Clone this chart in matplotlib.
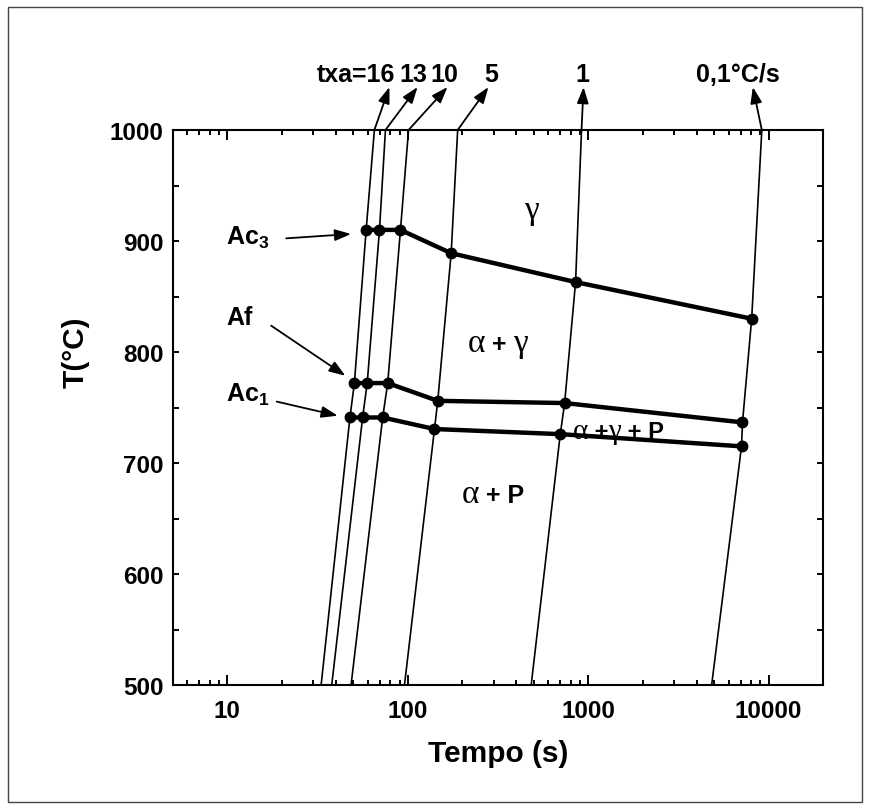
import matplotlib
matplotlib.use('Agg')
import matplotlib.pyplot as plt
from matplotlib.ticker import LogLocator, NullFormatter, MultipleLocator
from matplotlib.patches import Rectangle

plt.rcParams['font.family'] = ['Liberation Sans', 'DejaVu Sans']
plt.rcParams['font.weight'] = 'bold'
plt.rcParams['axes.labelweight'] = 'bold'
plt.rcParams['font.size'] = 17.5
plt.rcParams['mathtext.fontset'] = 'custom'
plt.rcParams['mathtext.rm'] = 'Liberation Sans:bold'
plt.rcParams['mathtext.it'] = 'Liberation Sans:bold'
plt.rcParams['mathtext.bf'] = 'Liberation Sans:bold'

# heating rates (°C/s) and time (s) where each curve crosses the temperatures
rate_labels = ['txa=16', '13', '10', '5', '1', '0,1°C/s']
t_500 = [33.1, 37.9, 48.5, 95.9, 483, 4830]
t_ac1 = [47.8, 56.2, 72.6, 140.6, 700, 7070]
t_af = [50.6, 59.6, 77.4, 146.6, 740, 7160]
t_ac3 = [58.8, 69.7, 91.1, 174, 851, 8050]
t_1000 = [65.3, 75.2, 101, 189, 918, 9160]

# transformation temperatures (°C)
T_ac1 = [741, 741, 741, 730.6, 726, 715]
T_af = [772, 772, 772, 756, 754, 736.6]
T_ac3 = [910, 910, 910, 889, 863, 830]

fig = plt.figure(figsize=(8.7, 8.12), dpi=100)
ax = fig.add_axes([173 / 870, 1 - 686 / 812, 650 / 870, 555 / 812])
renderer = fig.canvas.get_renderer()

# heating curves
for i in range(len(rate_labels)):
    ts = [t_500[i], t_ac1[i], t_af[i], t_ac3[i], t_1000[i]]
    Ts = [500, T_ac1[i], T_af[i], T_ac3[i], 1000]
    ax.plot(ts, Ts, color='black', lw=1.2, zorder=2)

# Ac1, Af, Ac3 lines
for ts, Ts in [(t_ac3, T_ac3), (t_af, T_af), (t_ac1, T_ac1)]:
    ax.plot(ts, Ts, color='black', lw=3.2, marker='o', ms=7.5, zorder=3)

ax.set_xscale('log')
ax.set_xlim(5, 20000)
ax.set_ylim(500, 1000)
ax.set_xticks([10, 100, 1000, 10000], labels=['10', '100', '1000', '10000'])
ax.xaxis.set_minor_locator(LogLocator(base=10, subs=range(2, 10)))
ax.xaxis.set_minor_formatter(NullFormatter())
ax.yaxis.set_major_locator(MultipleLocator(100))
ax.yaxis.set_minor_locator(MultipleLocator(50))

ax.tick_params(which='both', direction='in', top=True, right=True, width=1.4)
ax.tick_params(axis='x', which='major', length=7, pad=10)
ax.tick_params(axis='x', which='minor', length=3.5)
ax.tick_params(axis='y', which='both', length=4.5, pad=7)
for s in ax.spines.values():
    s.set_linewidth(1.5)

ax.set_xlabel('Tempo (s)', fontsize=21.5, fontweight='bold', labelpad=12)
ax.set_ylabel('T(°C)', fontsize=21.5, fontweight='bold')
ax.yaxis.set_label_coords(-0.128, 0.602)

# rate labels with arrows above the plot
arrow_tip = [79.1, 113.3, 166, 280, 942, 8170]
label_x = [51.3, 106.8, 160, 289, 931, 6780]
arrow_kw = dict(arrowstyle='-|>,head_length=0.7,head_width=0.25', color='black',
                lw=1.3, shrinkA=0, shrinkB=0, mutation_scale=14)
for i, lab in enumerate(rate_labels):
    ax.annotate('', xy=(arrow_tip[i], 1038.7), xytext=(t_1000[i], 1000),
                arrowprops=arrow_kw, annotation_clip=False)
    ax.text(label_x[i], 1044.4, lab, ha='center', va='baseline', fontsize=18,
            clip_on=False)

# Ac3 / Af / Ac1 labels
ax.text(9.87, 897.3, 'Ac$_3$', fontsize=18, va='baseline')
ax.text(9.87, 825.2, 'Af', fontsize=18, va='baseline')
ax.text(9.87, 755.9, 'Ac$_1$', fontsize=18, va='baseline')
ax.annotate('', xy=(48.5, 906.3), xytext=(21.2, 902.4), arrowprops=arrow_kw)
ax.annotate('', xy=(45.1, 778.6), xytext=(17.5, 823.7), arrowprops=arrow_kw)
ax.annotate('', xy=(40.9, 742.6), xytext=(18.8, 755.3), arrowprops=arrow_kw)

# phase field labels (greek in serif, rest bold sans)
greek = dict(family='Liberation Serif', fontweight='normal', fontsize=24)
greek_s = dict(family='Liberation Serif', fontweight='normal', fontsize=21)
sans = dict(family='Liberation Sans', fontweight='bold', fontsize=18)
sans_s = dict(family='Liberation Sans', fontweight='bold', fontsize=17)


def mixed_label(x, y, pieces):
    dx = 0
    for s, kw in pieces:
        t = ax.annotate(s, xy=(x, y), xytext=(dx, 0), textcoords='offset points',
                        ha='left', va='baseline', **kw)
        dx += t.get_window_extent(renderer).width * 72 / fig.dpi


ax.text(483, 920.7, 'γ', ha='center', va='baseline', **greek)
mixed_label(214, 800.9, [('α', greek), (' + ', sans), ('γ', greek)])
mixed_label(198.6, 664.9, [('α', greek), (' + P', sans)])
mixed_label(818, 722.5, [('α', greek_s), (' +', sans_s), ('γ', greek_s), (' + P', sans_s)])

# frame around the figure
fig.patches.append(Rectangle((8 / 870, 9 / 812), 854 / 870, 795 / 812,
                             transform=fig.transFigure, fill=False,
                             lw=1, ec='#444444'))

fig.savefig('out.png', dpi=100)
